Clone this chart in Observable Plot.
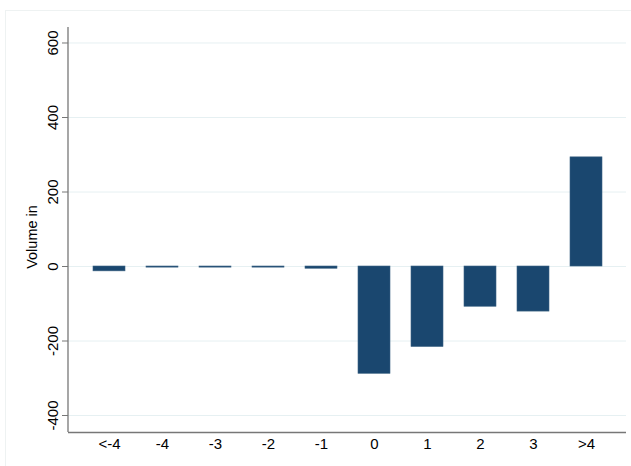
<!DOCTYPE html>
<html>
<head>
<meta charset="utf-8">
<script src="https://cdn.jsdelivr.net/npm/d3@7"></script>
<script src="https://cdn.jsdelivr.net/npm/@observablehq/plot@0.6"></script>
<style>
  html, body { margin: 0; padding: 0; background: #fff; }
  #wrap { position: relative; width: 631px; height: 466px; }
  #border { position: absolute; left: 5px; top: 10px; width: 640px; height: 470px; border: 1px solid #eef2f2; }
  #chart { position: absolute; left: 0; top: 0; }
</style>
</head>
<body>
<div id="wrap"><div id="border"></div><div id="chart"></div></div>
<script>
const categories = ["<-4", "-4", "-3", "-2", "-1", "0", "1", "2", "3", ">4"];
const volumes = [-13, -3, -3, -3, -6, -288, -216, -108, -121, 293];
const yTicks = [-400, -200, 0, 200, 400, 600];
const yLabel = "Volume in";

const data = categories.map((c, i) => ({cat: c, v: volumes[i]}));

const chart = Plot.plot({
  width: 631,
  height: 466,
  marginLeft: 68,
  marginRight: 5,
  marginTop: 27,
  marginBottom: 34,
  style: {fontFamily: "'Liberation Sans', Arial, sans-serif", fontSize: "15px", background: "transparent", color: "#000"},
  x: {domain: categories, paddingInner: 0.4, paddingOuter: 0.2, insetLeft: 12, insetRight: 12, label: null},
  y: {domain: [-445.6, 641.6], label: null},
  marks: [
    Plot.gridY(yTicks, {stroke: "#e6f0f2", strokeOpacity: 1, strokeWidth: 1}),
    Plot.barY(data, {x: "cat", y: "v", fill: "#1a476f", stroke: "#3b6282", strokeWidth: 0.6}),
    Plot.axisY(yTicks, {tickSize: 6, tickPadding: 5, tickRotate: -90, stroke: "#777", tickFormat: d => String(d), label: null, fontSize: 15}),
    Plot.text([yLabel], {frameAnchor: "left", textAnchor: "middle", dx: -36, dy: 7, rotate: -90, fontSize: 14.5, fill: "#000"}),
    Plot.ruleY([-445.6], {stroke: "#777", strokeWidth: 1.3}),
    Plot.axisX({tickSize: 0, tickPadding: 6, label: null, fontSize: 15})
  ]
});
document.getElementById("chart").appendChild(chart);
const svg = chart.tagName === "svg" ? chart : chart.querySelector("svg");
const line = document.createElementNS("http://www.w3.org/2000/svg", "line");
line.setAttribute("x1", 68); line.setAttribute("x2", 68);
line.setAttribute("y1", 27); line.setAttribute("y2", 432);
line.setAttribute("stroke", "#777"); line.setAttribute("stroke-width", 1.3);
svg.appendChild(line);
</script>
</body>
</html>
